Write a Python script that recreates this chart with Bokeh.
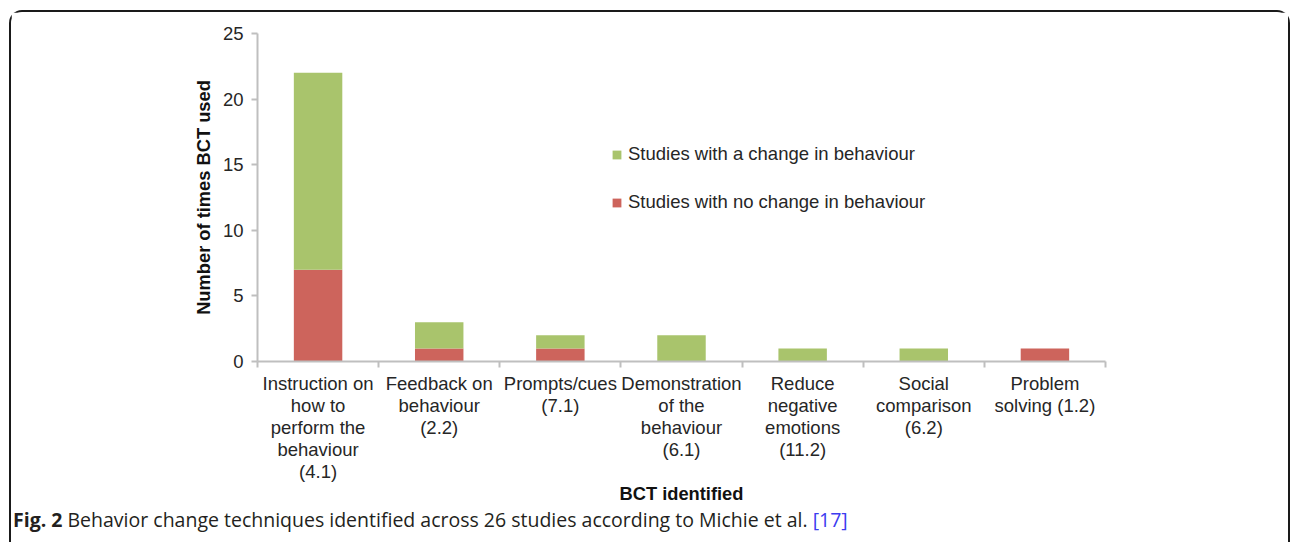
import numpy as np
from bokeh.plotting import figure
from bokeh.layouts import column
from bokeh.models import Range1d, FixedTicker, Legend, LegendItem, Div
from bokeh.embed import file_html
from bokeh.resources import INLINE

# ---- data ----
categories = [
    "Instruction on\nhow to\nperform the\nbehaviour\n(4.1)",
    "Feedback on\nbehaviour\n(2.2)",
    "Prompts/cues\n(7.1)",
    "Demonstration\nof the\nbehaviour\n(6.1)",
    "Reduce\nnegative\nemotions\n(11.2)",
    "Social\ncomparison\n(6.2)",
    "Problem\nsolving (1.2)",
]
no_change = [7, 1, 1, 0, 0, 0, 1]
with_change = [15, 2, 1, 2, 1, 1, 0]
y_ticks = [0, 5, 10, 15, 20, 25]
series_names = ["Studies with a change in behaviour", "Studies with no change in behaviour"]
caption_bold = "Fig. 2"
caption_text = "Behavior change techniques identified across 26 studies according to Michie et al."
caption_ref = "[17]"

GREEN = "#a9c46c"
RED = "#cd645c"
AXIS = "#bfbfbf"
TXT = "#262626"
FONT = "Liberation Sans"

# geometry (figure-relative)
W, H = 1277, 498
FL, FT, FB, FR = 246, 21, 349, 1094
n = len(categories)
centers = list(np.arange(n) + 0.5)
bounds = list(np.arange(n + 1))

p = figure(width=W, height=H, output_backend="svg", toolbar_location=None,
           x_range=Range1d(0, n), y_range=Range1d(0, 25),
           min_border_left=FL, min_border_right=W - FR,
           min_border_top=FT, min_border_bottom=H - FB, margin=0)
p.outline_line_color = None
p.xgrid.visible = False
p.ygrid.visible = False

src = dict(x=centers, no=no_change, ch=with_change)
r = p.vbar_stack(["no", "ch"], x="x", width=0.4, source=src,
                 color=[RED, GREEN], line_color=None)

# axes
xa = p.xaxis[0]
xa.ticker = FixedTicker(ticks=centers, minor_ticks=bounds)
xa.major_label_overrides = {float(c): lab for c, lab in zip(centers, categories)}
xa.major_tick_line_color = None
xa.major_tick_out = 6
xa.major_tick_in = 0
xa.minor_tick_line_color = AXIS
xa.minor_tick_line_width = 2
xa.minor_tick_out = 6
xa.minor_tick_in = 0
xa.axis_line_color = AXIS
xa.axis_line_width = 2
xa.major_label_text_font = FONT
xa.major_label_text_font_size = "18.5px"
xa.major_label_text_color = TXT
xa.major_label_text_line_height = 1.05
xa.major_label_standoff = 5
xa.axis_label = "BCT identified"
xa.axis_label_text_font = FONT
xa.axis_label_text_font_style = "bold"
xa.axis_label_text_font_size = "18.3px"
xa.axis_label_text_color = "#111111"
xa.axis_label_standoff = -2

ya = p.yaxis[0]
ya.ticker = FixedTicker(ticks=y_ticks)
ya.minor_tick_line_color = None
ya.major_tick_line_color = AXIS
ya.major_tick_line_width = 2
ya.major_tick_out = 6
ya.major_tick_in = 0
ya.axis_line_color = AXIS
ya.axis_line_width = 2
ya.major_label_text_font = FONT
ya.major_label_text_font_size = "18.5px"
ya.major_label_text_color = TXT
ya.major_label_standoff = 8
ya.axis_label = "Number of times BCT used"
ya.axis_label_text_font = FONT
ya.axis_label_text_font_style = "bold"
ya.axis_label_text_font_size = "18.3px"
ya.axis_label_text_color = "#111111"
ya.axis_label_standoff = 6

legend = Legend(items=[LegendItem(label=series_names[0], renderers=[r[1]]),
                       LegendItem(label=series_names[1], renderers=[r[0]])],
                location=(354, 148), orientation="vertical",
                glyph_width=11, glyph_height=11, label_height=22, spacing=26,
                label_standoff=6, padding=0, margin=0,
                border_line_color=None, background_fill_alpha=0,
                label_text_font=FONT, label_text_font_size="18.5px",
                label_text_color=TXT)
p.add_layout(legend, "center")

cap = Div(
    text=(f"<b>{caption_bold}</b> {caption_text} "
          f"<span style='color:#3c3cf0'>{caption_ref}</span>"),
    width=W, height=32, margin=0,
    styles={"font-family": "'Open Sans'", "font-size": "19.5px", "color": "#231f20",
            "padding-left": "2px", "line-height": "19px", "white-space": "nowrap"},
)

outer = column(p, cap, spacing=0, margin=(10, 0, 0, 9),
               styles={"border": "2px solid #1a1a1a", "border-bottom": "none",
                       "border-radius": "13px 13px 0 0"})

open("out.html", "w").write(file_html(outer, INLINE))
